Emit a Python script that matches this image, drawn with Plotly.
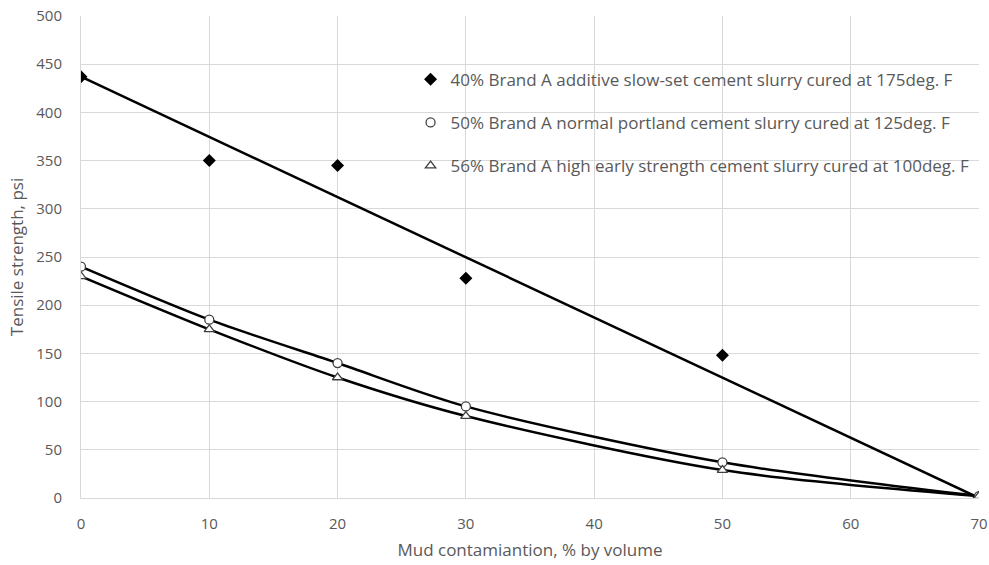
import plotly.graph_objects as go

mud = [0, 10, 20, 30, 50, 70]
slow_set = [437, 350, 345, 228, 148, 0]
normal = [240, 185, 140, 95, 37, 2]
high_early = [230, 175, 125, 85, 29, 2]

names = [
    "40% Brand A additive slow-set cement slurry cured at 175deg. F",
    "50% Brand A normal portland cement slurry cured at 125deg. F",
    "56% Brand A high early strength cement slurry cured at 100deg. F",
]

FONT = "Open Sans"
GRAY = "#595959"
GRID = "#d9d9d9"

fig = go.Figure()

# trend line for slow-set series: straight line from first to last point
fig.add_trace(go.Scatter(x=[mud[0], mud[-1]], y=[slow_set[0], slow_set[-1]], mode="lines",
                         line=dict(color="black", width=2.5), showlegend=False, hoverinfo="skip"))
# smooth curves for the other two
for ys in (normal, high_early):
    fig.add_trace(go.Scatter(x=mud, y=ys, mode="lines",
                             line=dict(color="black", width=2.5, shape="spline", smoothing=0.8),
                             showlegend=False, hoverinfo="skip"))

fig.add_trace(go.Scatter(x=mud, y=slow_set, mode="markers", name=names[0], legendgroup="a",
                         marker=dict(symbol="diamond", color="black", size=10)))
fig.add_trace(go.Scatter(x=mud, y=normal, mode="markers", name=names[1], legendgroup="b",
                         marker=dict(symbol="circle", color="white", size=9, line=dict(color="#404040", width=1.3))))
fig.add_trace(go.Scatter(x=mud, y=high_early, mode="markers", name=names[2], legendgroup="c",
                         marker=dict(symbol="triangle-up", color="white", size=9, line=dict(color="#404040", width=1.3))))

fig.update_layout(
    width=989, height=565,
    margin=dict(l=81, r=10, t=16, b=67),
    paper_bgcolor="white", plot_bgcolor="white",
    font=dict(family=FONT, size=15, color=GRAY),
    legend=dict(x=0.367, y=0.905, xanchor="left", yanchor="top", bgcolor="rgba(0,0,0,0)",
                tracegroupgap=18, font=dict(size=17, color=GRAY), itemwidth=30),
    xaxis=dict(range=[0, 70], tickvals=[0, 10, 20, 30, 40, 50, 60, 70], showgrid=True, gridcolor=GRID, gridwidth=1,
               zeroline=False, showline=True, linecolor=GRID, linewidth=1,
               ticks="outside", ticklen=12, tickcolor="rgba(0,0,0,0)", automargin=False,
               tickfont=dict(size=15, color=GRAY),
               title=dict(text="Mud contamiantion, % by volume", font=dict(size=17, color=GRAY), standoff=12)),
    yaxis=dict(range=[0, 500], dtick=50, showgrid=True, gridcolor=GRID, gridwidth=1,
               zeroline=False, showline=True, linecolor=GRID, linewidth=1,
               ticks="outside", ticklen=15, tickcolor="rgba(0,0,0,0)", automargin=False,
               tickfont=dict(size=15, color=GRAY),
               title=dict(text="Tensile strength, psi", font=dict(size=17, color=GRAY), standoff=8)),
)

fig.write_html("out.html")
